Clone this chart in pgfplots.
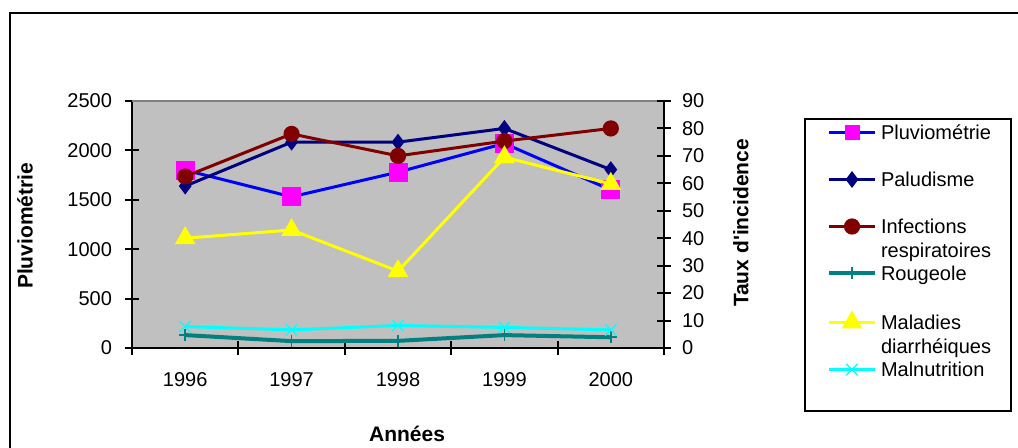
\documentclass[border=0pt]{standalone}
\usepackage{pgfplots}
\pgfplotsset{compat=1.18}
\usepackage{fontspec}
\setmainfont{Liberation Sans}
\definecolor{plotbg}{RGB}{192,192,192}
\definecolor{pnavy}{RGB}{0,0,128}
\definecolor{pmaroon}{RGB}{128,0,0}
\definecolor{pteal}{RGB}{0,128,128}
\definecolor{pblue}{RGB}{0,0,255}
\definecolor{pmag}{RGB}{255,0,255}
\definecolor{pyel}{RGB}{255,255,0}
\definecolor{pcyan}{RGB}{0,255,255}
\definecolor{pgrayb}{RGB}{128,128,128}
\pgfplotsset{
  common/.style={
    at={(66pt,50pt)}, anchor=south west, scale only axis,
    width=266pt, height=123.5pt,
    xmin=-0.5, xmax=4.5,
    tick align=center, major tick length=7pt,
    tick style={line width=1pt, black},
    axis line style={line width=1pt, black},
    /pgf/number format/assume math mode=true,
    /pgf/number format/1000 sep={},
    scaled y ticks=false,
    tick label style={font=\fontsize{10}{12}\selectfont},
    label style={font=\fontsize{10.5}{12}\selectfont\bfseries},
  }
}
\begin{document}
\begin{tikzpicture}[x=1pt,y=1pt]
\draw[line width=1pt] (5,-20) rectangle (540,217.5);
\begin{axis}[common,
  ymin=0, ymax=2500, ytick={0,500,...,2500},
  xtick={-0.5,0.5,...,4.5}, x tick label as interval,
  xticklabels={1996,1997,1998,1999,2000},
  xticklabel style={yshift=-5pt},
  yticklabel style={xshift=-3pt},
  axis x line*=bottom, axis y line*=left,
  axis background/.style={fill=plotbg},
  xlabel={Années},
  xlabel style={at={(axis description cs:0.517,-0.348)}, anchor=center},
  ylabel={Pluviométrie},
  ylabel style={at={(axis description cs:-0.2011,0.494)}, anchor=center},
  after end axis/.code={\draw[pgrayb, line width=1pt] (rel axis cs:0,1) -- (rel axis cs:1,1);},
]
\addplot[pblue, line width=1.5pt, mark=square*, mark size=4pt, mark options={fill=pmag, draw=pmag}]
  coordinates {(0,1800) (1,1530) (2,1780) (3,2070) (4,1600)};
\end{axis}
\begin{axis}[common,
  ymin=0, ymax=90, ytick={0,10,...,90},
  yticklabel style={xshift=2pt},
  axis x line=none, axis y line*=right,
  ylabel={Taux d\textquotesingle incidence},
  ylabel style={at={(axis description cs:1.1447,0.506)}, anchor=center},
  legend cell align=left,
  legend image code/.code={
    \draw[mark repeat=2, mark phase=2, #1] plot coordinates {(0pt,3.5pt) (11.5pt,3.5pt) (23pt,3.5pt)};
  },
  legend style={at={(axis description cs:1.2632,0.9312)}, anchor=north west,
    draw=black, line width=1pt, fill=white,
    inner xsep=11pt, inner ysep=3.25pt, row sep=2.5pt, column sep=2pt,
    font=\fontsize{10}{12}\selectfont,
    nodes={inner sep=0pt, text height=7pt, text depth=14pt, text width=54pt, align=left, anchor=base west}},
]
\addlegendimage{pblue, line width=1.5pt, mark=square*, mark size=3pt, mark options={fill=pmag, draw=pmag}}
\addlegendentry{Pluviométrie}
\addplot[pnavy, line width=1.5pt, mark=diamond*, mark size=3pt]
  coordinates {(0,59) (1,75) (2,75) (3,80) (4,65)};
\addlegendentry{Paludisme}
\addplot[pmaroon, line width=1.5pt, mark=*, mark size=3.3pt]
  coordinates {(0,62.5) (1,78) (2,70) (3,75.4) (4,80)};
\addlegendentry{Infections\\respiratoires}
\addplot[pteal, line width=2pt, mark=+, mark size=3pt, mark options={line width=0.8pt}]
  coordinates {(0,4.7) (1,2.5) (2,2.6) (3,4.7) (4,3.9)};
\addlegendentry{Rougeole}
\addplot[pyel, line width=1.5pt, mark=triangle*, mark size=4.5pt]
  coordinates {(0,40) (1,43) (2,28) (3,69.5) (4,59.8)};
\addlegendentry{Maladies\\diarrhéiques}
\addplot[pcyan, line width=1.5pt, mark=x, mark size=4pt, mark options={line width=0.6pt}]
  coordinates {(0,7.8) (1,6.6) (2,8.2) (3,7.5) (4,6.6)};
\addlegendentry{Malnutrition}
\end{axis}
\pgfresetboundingbox
\path[use as bounding box] (0,0) rectangle (509,224);
\end{tikzpicture}
\end{document}
